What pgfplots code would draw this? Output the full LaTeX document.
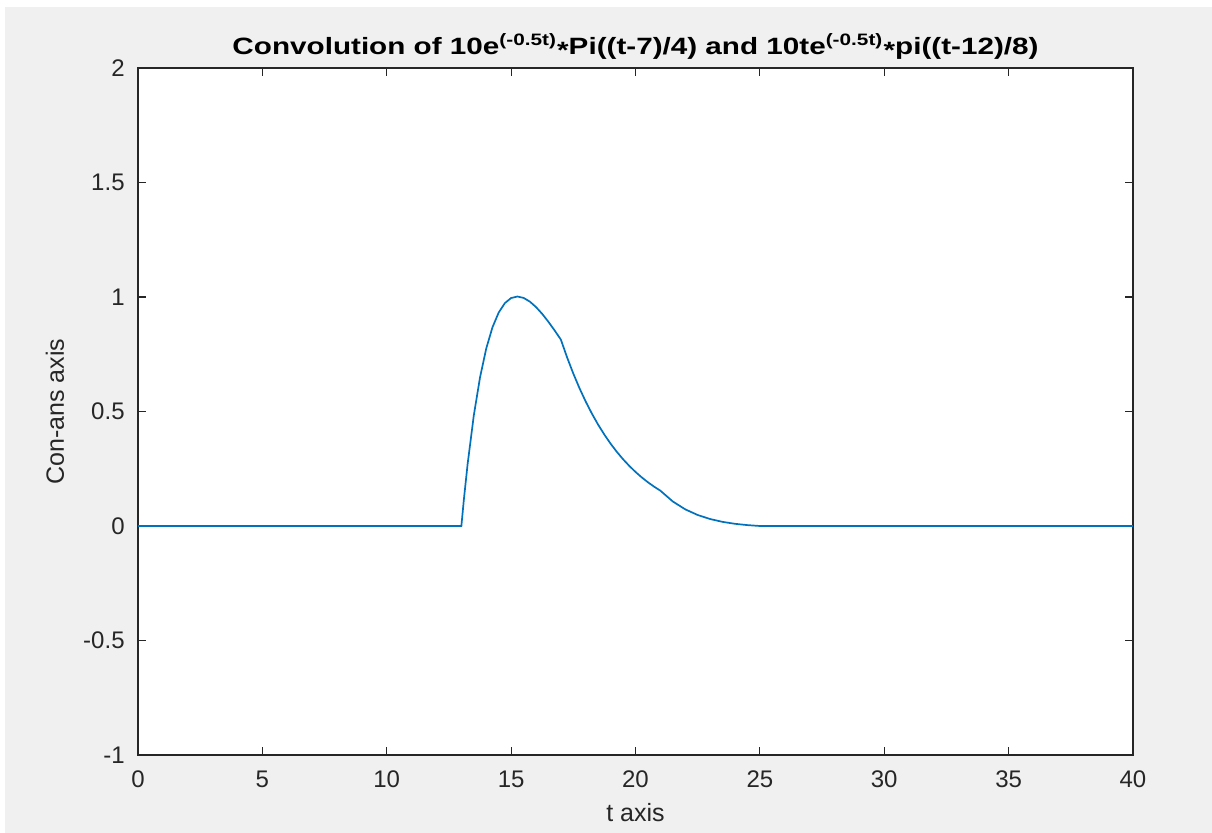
\documentclass[border=0pt]{standalone}
\usepackage{fontspec}
\setmainfont{Liberation Sans}
\usepackage{graphicx}
\usepackage{pgfplots}
\pgfplotsset{compat=1.18}
\definecolor{mblue}{rgb}{0,0.447,0.741}
\definecolor{axgray}{RGB}{38,38,38}
\definecolor{figgray}{RGB}{240,240,240}

\begin{document}
\begin{tikzpicture}
\useasboundingbox (-69pt,-39pt) rectangle (537pt,377.5pt);
\fill[white] (-69pt,-39pt) rectangle (537pt,377.5pt);
\fill[figgray] (-66.5pt,-39pt) rectangle (537pt,374pt);
\begin{axis}[
    at={(0,0)}, anchor=south west,
    scale only axis, width=497.5pt, height=343.5pt,
    xmin=0, xmax=40, ymin=-1, ymax=2,
    xtick={0,5,10,15,20,25,30,35,40},
    xticklabels={0,5,10,15,20,25,30,35,40},
    ytick={-1,-0.5,0,0.5,1,1.5,2},
    yticklabels={-1,-0.5,0,0.5,1,1.5,2},
    tick align=inside, major tick length=4pt,
    axis line style={axgray, line width=0.8pt},
    every tick/.style={axgray, line width=0.6pt},
    tick label style={font=\fontsize{12}{14}\selectfont, text=axgray},
    xticklabel style={anchor=base, yshift=-16.5pt},
    yticklabel style={anchor=east, inner sep=0pt, xshift=-6.5pt},
    axis background/.style={fill=white},
    every axis title shift=0pt,
    title={\resizebox{403pt}{\height}{\bfseries Convolution of 10e\textsuperscript{(-0.5t)}\raisebox{-0.35ex}{*}Pi((t-7)/4) and 10te\textsuperscript{(-0.5t)}\raisebox{-0.35ex}{*}pi((t-12)/8)}},
    title style={at={(axis description cs:0.5,1.0199)}, anchor=base, font=\fontsize{11.8}{14}\selectfont, text=black},
    xlabel={t axis},
    xlabel style={at={(axis description cs:0.5,-0.0975)}, anchor=base, font=\fontsize{12.5}{15}\selectfont, text=axgray},
    ylabel={Con-ans axis},
    ylabel style={at={(axis description cs:-0.0744,0.5)}, anchor=base, font=\fontsize{12.5}{15}\selectfont, text=axgray},
]
\addplot[mblue, line width=0.85pt] coordinates {
    (0,0) (13,0) (13.1,0.1151) (13.25,0.2695) (13.5,0.4830) (13.75,0.6490)
    (14,0.7751) (14.25,0.8676) (14.5,0.9321) (14.75,0.9734) (15,0.9955)
    (15.25,1.0021) (15.5,0.9961) (15.75,0.9800) (16,0.9561) (16.25,0.9261)
    (16.5,0.8915) (16.75,0.8538) (17,0.8139) (17.25,0.7362) (17.5,0.6655)
    (17.75,0.6013) (18,0.5430) (18.25,0.4901) (18.5,0.4421) (18.75,0.3987)
    (19,0.3593) (19.25,0.3237) (19.5,0.2915) (19.75,0.2624) (20,0.2361)
    (20.25,0.2123) (20.5,0.1909) (20.75,0.1716) (21,0.1542) (21.5,0.1070)
    (22,0.0727) (22.5,0.0480) (23,0.0304) (23.5,0.0180) (24,0.0095)
    (24.5,0.0038) (25,0) (40,0)
};
\end{axis}
\end{tikzpicture}
\end{document}
